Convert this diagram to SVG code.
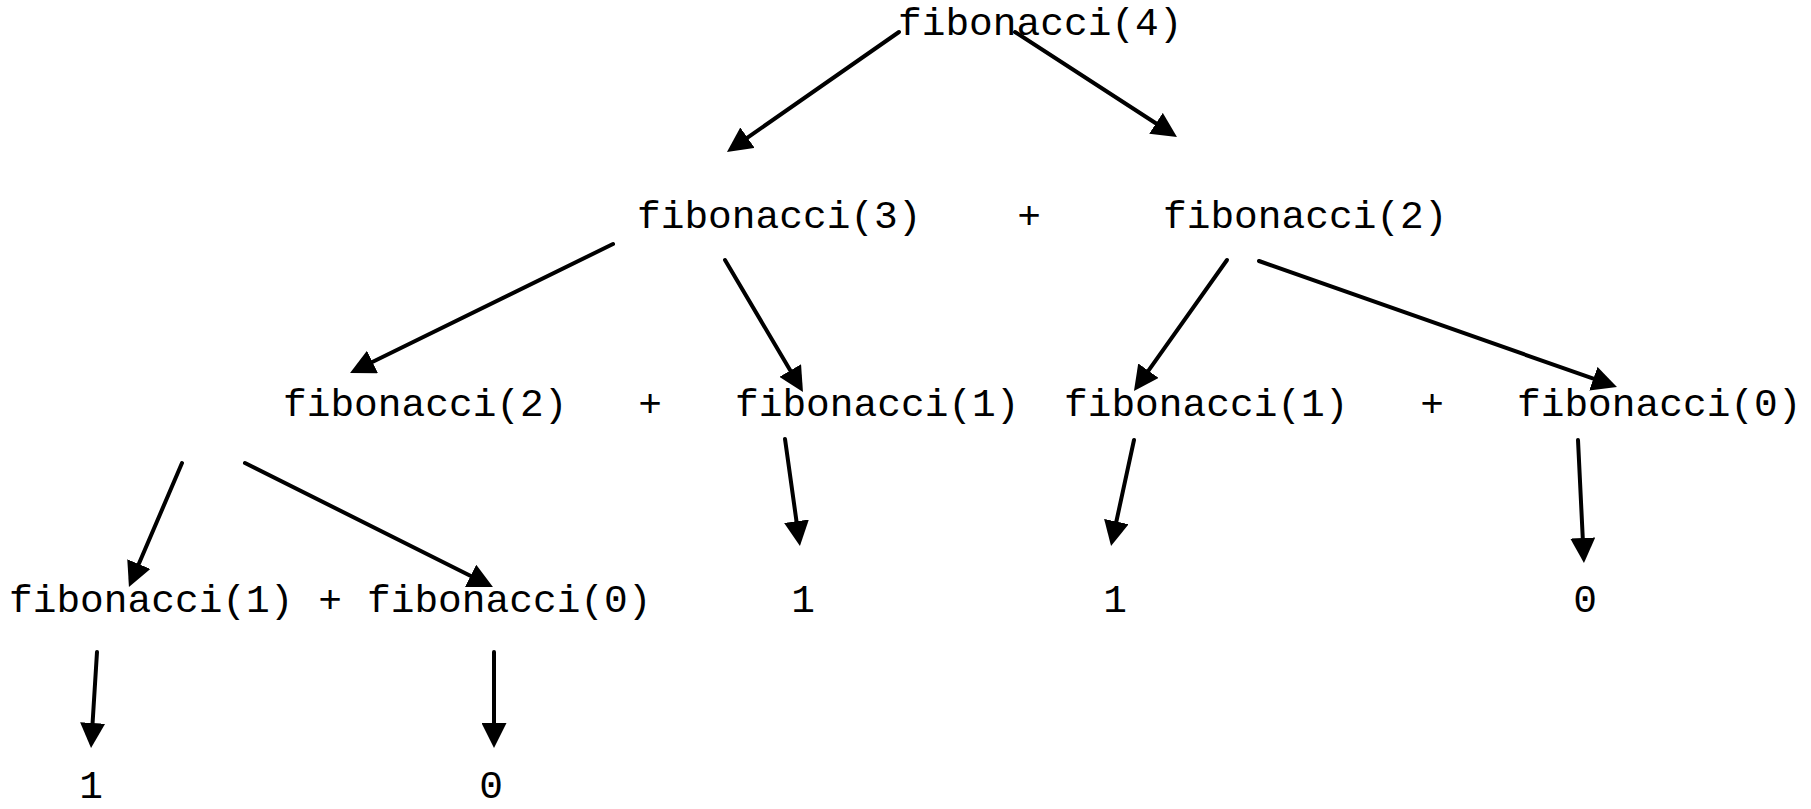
<svg xmlns="http://www.w3.org/2000/svg" width="1811" height="809" viewBox="0 0 1811 809">
<style>
text{font-family:"Liberation Mono","Courier New",monospace;font-size:39.5px;fill:#000}
.m{text-anchor:middle}
.c line{stroke:#000;stroke-width:4;stroke-linecap:round;marker-end:url(#ah)}
</style>
<defs>
<marker id="ah" markerUnits="userSpaceOnUse" markerWidth="25" markerHeight="25" refX="3" refY="12.5" orient="auto" viewBox="0 0 25 25">
<path d="M0,0 L25,12.5 L0,25 z" fill="#000"/>
</marker>
</defs>
<rect width="1811" height="809" fill="#fff"/>
<g id="connectors" class="c">
<line x1="899" y1="32" x2="745" y2="139.4"/>
<line x1="1015" y1="32" x2="1158.5" y2="125"/>
<line x1="613" y1="244" x2="369.8" y2="363.3"/>
<line x1="725" y1="260" x2="791.8" y2="373.1"/>
<line x1="1227" y1="260" x2="1146.7" y2="373.1"/>
<line x1="1259" y1="261" x2="1596.2" y2="379.7"/>
<line x1="182" y1="463" x2="137.6" y2="566.8"/>
<line x1="245" y1="463" x2="473.3" y2="577.2"/>
<line x1="785" y1="439" x2="796.9" y2="524.2"/>
<line x1="1134" y1="440" x2="1115.7" y2="524.5"/>
<line x1="1578" y1="440" x2="1582.9" y2="541"/>
<line x1="97" y1="652" x2="92.4" y2="726"/>
<line x1="494" y1="652" x2="494" y2="726"/>
</g>
<g id="fib4"><text x="898" y="35">fibonacci(4)</text></g>
<g id="fib3"><text x="637" y="228">fibonacci(3)</text></g>
<g id="plus1"><text class="m" x="1029" y="228">+</text></g>
<g id="fib2a"><text x="1163" y="228">fibonacci(2)</text></g>
<g id="fib2b"><text x="283" y="416">fibonacci(2)</text></g>
<g id="plus2"><text class="m" x="650" y="416">+</text></g>
<g id="fib1a"><text x="735" y="416">fibonacci(1)</text></g>
<g id="fib1b"><text x="1064" y="416">fibonacci(1)</text></g>
<g id="plus3"><text class="m" x="1432" y="416">+</text></g>
<g id="fib0a"><text x="1517" y="416">fibonacci(0)</text></g>
<g id="fib1c"><text x="9" y="612">fibonacci(1)</text></g>
<g id="plus4"><text class="m" x="330" y="612">+</text></g>
<g id="fib0b"><text x="367" y="612">fibonacci(0)</text></g>
<g id="v1a"><text class="m" x="803" y="612">1</text></g>
<g id="v1b"><text class="m" x="1115" y="612">1</text></g>
<g id="v0a"><text class="m" x="1585" y="612">0</text></g>
<g id="v1c"><text class="m" x="91" y="798">1</text></g>
<g id="v0b"><text class="m" x="491" y="798">0</text></g>
</svg>
